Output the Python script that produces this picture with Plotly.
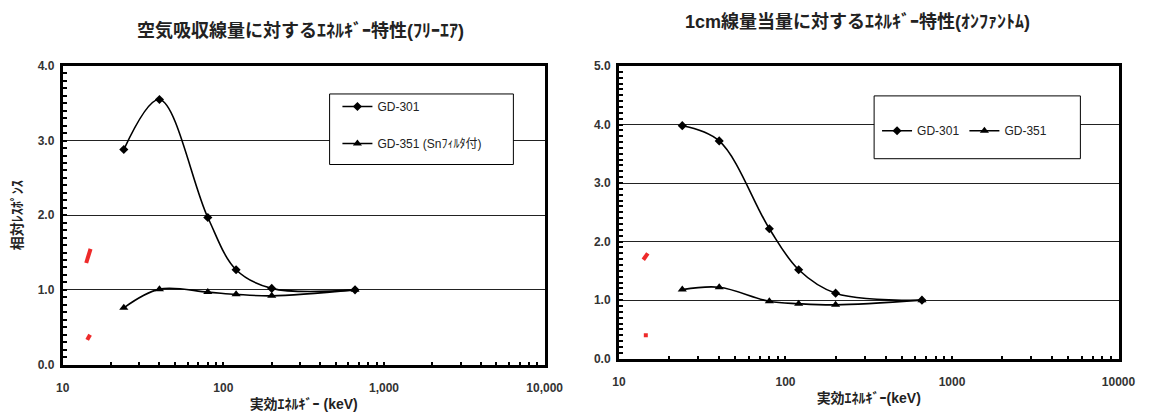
import plotly.graph_objects as go

# ---- data ----
energy_keV = [24, 40, 80, 120, 200, 660]

left_gd301 = [2.88, 3.55, 1.97, 1.27, 1.02, 1.00]
left_gd351 = [0.76, 1.01, 0.97, 0.94, 0.92, 1.00]

right_gd301 = [3.98, 3.72, 2.22, 1.52, 1.12, 1.00]
right_gd351 = [1.18, 1.22, 0.98, 0.94, 0.92, 1.00]

# stray red marks seen on the original charts
left_red_a_x, left_red_a_y = [14.0, 14.9], [1.36, 1.55]
left_red_b_x, left_red_b_y = [14.2, 14.8], [0.33, 0.40]
right_red_a_x, right_red_a_y = [14.0, 14.9], [1.69, 1.80]
right_red_b_x, right_red_b_y = [14.1, 14.9], [0.40, 0.40]

left_xtick_vals = [10, 100, 1000, 10000]
left_xtick_text = ["10", "100", "1,000", "10,000"]
right_xtick_text = ["10", "100", "1000", "10000"]

left_title = "空気吸収線量に対するｴﾈﾙｷﾞｰ特性(ﾌﾘｰｴｱ)"
right_title = "1cm線量当量に対するｴﾈﾙｷﾞｰ特性(ｵﾝﾌｧﾝﾄﾑ)"
left_xtitle = "実効ｴﾈﾙｷﾞｰ (keV)"
right_xtitle = "実効ｴﾈﾙｷﾞｰ(keV)"
left_ytitle = "相対ﾚｽﾎﾟﾝｽ"
name_301 = "GD-301"
name_351_left = "GD-351 (Snﾌｨﾙﾀ付)"
name_351_right = "GD-351"

FONT = "Liberation Sans, Noto Sans CJK JP, sans-serif"
W, H = 1160, 415

minor_x = [m * 10 ** d for d in range(1, 4) for m in range(2, 10)]

fig = go.Figure()

def add_series(x, y, name, symbol, xa, ya, legend, group):
    fig.add_trace(go.Scatter(
        x=x, y=y, name=name, mode="lines+markers",
        line=dict(color="black", width=1.6, shape="spline", smoothing=1.0),
        marker=dict(symbol=symbol, size=8 if symbol == "triangle-up" else 7, color="black"),
        xaxis=xa, yaxis=ya, legend=legend, legendgroup=group,
    ))

add_series(energy_keV, left_gd301, name_301, "diamond", "x", "y", "legend", "a")
add_series(energy_keV, left_gd351, name_351_left, "triangle-up", "x", "y", "legend", "b")
add_series(energy_keV, right_gd301, name_301, "diamond", "x2", "y2", "legend2", "c")
add_series(energy_keV, right_gd351, name_351_right, "triangle-up", "x2", "y2", "legend2", "d")

for xs, ys, xa, ya in [(left_red_a_x, left_red_a_y, "x", "y"),
                       (left_red_b_x, left_red_b_y, "x", "y"),
                       (right_red_a_x, right_red_a_y, "x2", "y2"),
                       (right_red_b_x, right_red_b_y, "x2", "y2")]:
    fig.add_trace(go.Scatter(x=xs, y=ys, mode="lines", showlegend=False,
                             line=dict(color="#ee2a2a", width=4), hoverinfo="skip",
                             xaxis=xa, yaxis=ya))

def px_x(p):
    return p / W

def px_y(p):
    return 1 - p / H

tickfont = dict(family=FONT, size=12, color="#333", weight="bold")
axtitlefont = dict(family=FONT, size=14, weight="bold", color="#222")

xcommon = dict(type="log", showline=True, linewidth=3, linecolor="black", mirror=True,
               showgrid=False, zeroline=False, ticks="inside", ticklen=3, tickwidth=2,
               tickcolor="black", tickvals=left_xtick_vals, tickfont=tickfont,
               ticklabelstandoff=10,
               minor=dict(tickvals=minor_x, ticks="inside", ticklen=3, tickwidth=2, tickcolor="black"),
               range=[1, 4])
ycommon = dict(showline=True, linewidth=3, linecolor="black", mirror=True,
               showgrid=True, gridcolor="#222", gridwidth=1, zeroline=False,
               ticks="inside", ticklen=4, tickwidth=2, tickcolor="black",
               tickformat=".1f", dtick=1, tickfont=tickfont, ticklabelstandoff=3,
               minor=dict(dtick=0.1, ticks="inside", ticklen=4, tickwidth=2, tickcolor="black", showgrid=False))

fig.update_layout(
    width=W, height=H, margin=dict(l=0, r=0, t=0, b=0),
    paper_bgcolor="white", plot_bgcolor="white",
    font=dict(family=FONT, color="#222"),
    xaxis=dict(**xcommon, domain=[px_x(57), px_x(550)], anchor="y", ticktext=left_xtick_text,
               title=dict(text=left_xtitle, font=axtitlefont, standoff=6)),
    yaxis=dict(**ycommon, domain=[px_y(370), px_y(61)], anchor="x", range=[0, 4],
               title=dict(text=left_ytitle, font=axtitlefont, standoff=12)),
    xaxis2=dict(**xcommon, domain=[px_x(626), px_x(1137)], anchor="y2", ticktext=right_xtick_text,
                title=dict(text=right_xtitle, font=axtitlefont, standoff=6)),
    yaxis2=dict(**ycommon, domain=[px_y(364), px_y(61)], anchor="x2", range=[0, 5]),
    legend=dict(x=px_x(338), y=px_y(88), xanchor="left", yanchor="top",
                bgcolor="rgba(0,0,0,0)", borderwidth=0, tracegroupgap=18, itemwidth=30,
                font=dict(family=FONT, size=12, color="#222")),
    legend2=dict(x=px_x(890), y=px_y(113), xanchor="left", yanchor="top", orientation="h",
                 bgcolor="rgba(0,0,0,0)", borderwidth=0, itemwidth=30,
                 font=dict(family=FONT, size=12, color="#222")),
    shapes=[
        dict(type="rect", xref="paper", yref="paper", x0=px_x(330), x1=px_x(518),
             y0=px_y(163), y1=px_y(90), fillcolor="white", line=dict(color="black", width=1), layer="above"),
        dict(type="rect", xref="paper", yref="paper", x0=px_x(887), x1=px_x(1098),
             y0=px_y(157), y1=px_y(92), fillcolor="white", line=dict(color="black", width=1), layer="above"),
    ],
    annotations=[
        dict(text=left_title, x=px_x(300), y=px_y(24), xref="paper", yref="paper", showarrow=False,
             xanchor="center", yanchor="middle",
             font=dict(family=FONT, size=18, weight="bold", color="#222")),
        dict(text=right_title, x=px_x(870), y=px_y(16), xref="paper", yref="paper", showarrow=False,
             xanchor="center", yanchor="middle",
             font=dict(family=FONT, size=18, weight="bold", color="#222")),
    ],
)

fig.write_html("out.html")
